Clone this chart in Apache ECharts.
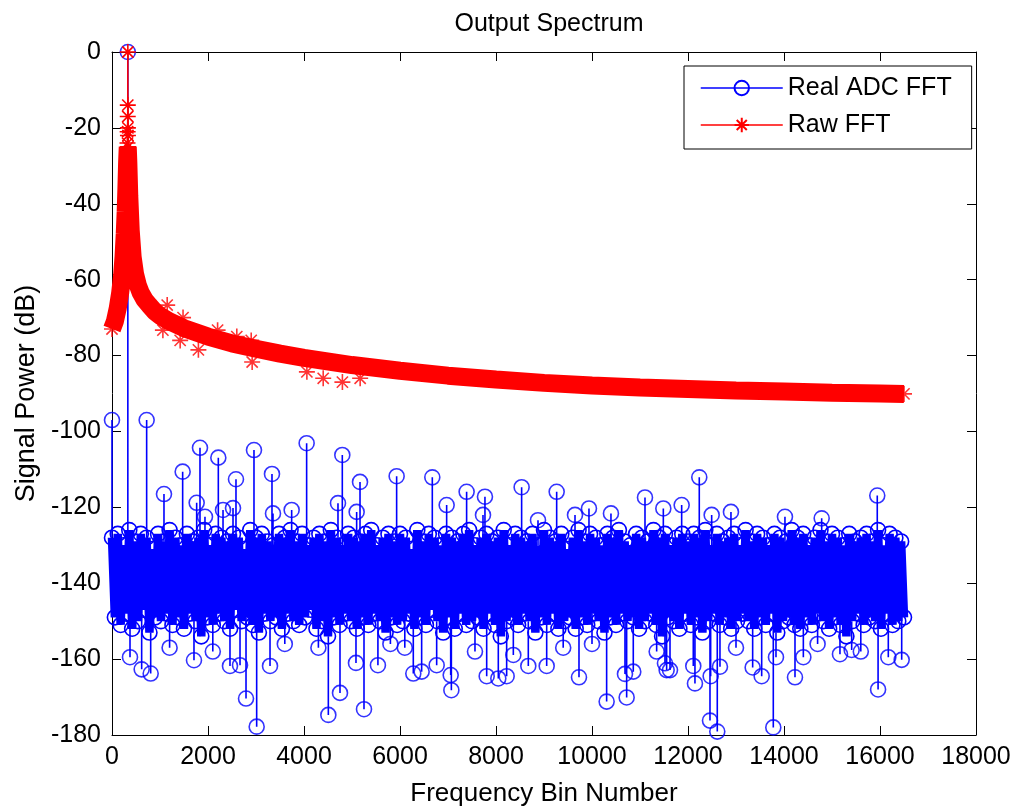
<!DOCTYPE html>
<html>
<head>
<meta charset="utf-8">
<script src="https://cdn.jsdelivr.net/npm/echarts@6/dist/echarts.min.js"></script>
<style>html,body{margin:0;padding:0;background:#fff}#chart{width:1019px;height:806px}</style>
</head>
<body>
<div id="chart"></div>
<script>
// ---- axes ----
const xMin = 0, xMax = 18000, xStep = 2000;
const yMin = -180, yMax = 0, yStep = 20;

// ---- Real ADC FFT: noise floor samples (every noiseBinStep bins) ----
const noiseStartBin = 0;
const noiseBinStep = 60;
const noiseVals = [
-128,-149,-127,-151,-130,-148,-126,-152,-129,-150,-127,-147,-128,-153,-131,-149,-127,-150,-129,-148,
-126,-151,-128,-149,-130,-152,-127,-148,-129,-150,-128,-154,-126,-149,-130,-151,-127,-148,-128,-150,
-129,-152,-127,-147,-128,-150,-131,-149,-126,-151,-128,-153,-127,-148,-129,-150,-130,-149,-127,-152,
-128,-148,-126,-150,-129,-151,-127,-149,-130,-147,-128,-152,-127,-150,-129,-154,-126,-149,-128,-151,
-130,-148,-127,-150,-128,-152,-129,-149,-127,-151,-126,-148,-130,-150,-128,-153,-127,-149,-129,-151,
-127,-150,-128,-148,-131,-152,-126,-149,-129,-151,-127,-147,-128,-150,-130,-153,-127,-149,-128,-152,
-129,-148,-127,-151,-126,-150,-130,-149,-128,-152,-127,-148,-129,-151,-128,-154,-126,-150,-130,-149,
-127,-151,-128,-148,-129,-150,-127,-153,-130,-149,-126,-151,-128,-148,-129,-152,-127,-150,-131,-149,
-128,-152,-126,-149,-129,-151,-127,-148,-128,-150,-130,-153,-127,-149,-128,-151,-126,-148,-129,-150,
-130,-149,-127,-152,-128,-150,-129,-148,-126,-151,-128,-154,-127,-149,-130,-150,-128,-152,-127,-148,
-129,-151,-127,-149,-128,-153,-126,-150,-130,-148,-127,-151,-129,-149,-128,-152,-127,-150,-130,-148,
-126,-150,-129,-152,-127,-149,-128,-151,-130,-148,-127,-153,-128,-150,-129,-149,-126,-151,-128,-152,
-127,-149,-130,-151,-128,-148,-126,-150,-129,-152,-127,-149,-128,-151,-130,-154,-127,-150,-129,-148,
-128,-151,-127,-149,-129,-150,-126,-152,-130,-148,-127,-151,-128,-150,-129,-149
];

// ---- Real ADC FFT: isolated bins standing out of the floor ----
const adcOutlierBins = [
0,330,722,1083,1472,1764,1833,1937,2215,2313,2521,2583,2958,3333,3354,3743,4055,4708,4798,5097,5167,
5930,6673,6972,7388,7729,7770,8534,8875,9264,9646,9937,10395,11104,11486,11868,12235,12493,12895,14020,14785,15943,
375,618,806,1200,1708,2100,2458,2667,2792,3014,3292,3600,4300,4507,4750,5083,5250,5540,5800,6100,6277,6451,6764,
7056,7070,7562,7806,8048,8222,8361,8673,9056,9400,9729,10000,10305,10687,10722,10860,11347,11520,11555,11625,
12110,12145,12458,12472,12610,12666,13000,13347,13535,13777,13833,14229,14403,14700,15166,15410,15600,15960,16173,16452
];
const adcOutlierVals = [
-97,0,-97,-116.5,-110.6,-118.8,-104.3,-122.5,-106.9,-120.7,-120.2,-112.6,-104.9,-111.2,-121.6,-120.7,-103.1,-118.9,-106.2,-121.2,-113.3,
-111.8,-112.1,-119.4,-115.9,-122,-117.2,-114.7,-123.4,-115.9,-122,-120.3,-121.6,-117.4,-120.3,-119.4,-112.1,-122,-121.2,-122.5,-122.9,-116.9,
-159.5,-162.7,-163.8,-157,-160.3,-158,-161.8,-161.6,-170.4,-177.8,-161.8,-156,-157,-174.7,-168.9,-161,-173.2,-161.6,-156,-157,-163.8,-163.3,-161.6,
-164.2,-168.2,-158,-164.5,-165.1,-164.5,-158.9,-161.8,-161.8,-157,-164.8,-156,-171.2,-163.9,-170.1,-163.3,-158,-161.1,-162.9,-162.9,
-161.8,-166.4,-176.2,-164.5,-179.1,-162,-157,-162.2,-164.5,-178,-159.5,-164.8,-159.5,-156,-158.7,-157.6,-158,-168,-159.5,-160.2
];

// ---- Raw FFT: leakage curve ----
const rawCurveBins = [0,60,120,170,210,240,265,285,300,315,328,340,360,390,430,480,540,600,680,780,900,1000,1200,1500,2000,2500,3000,3500,4000,5000,6000,7000,8000,9000,10000,11000,12000,13000,14000,15000,16000,16500];
const rawCurveVals = [-73,-71,-67.5,-63.5,-59,-54,-48,-42,-36,-29,-25,-29,-38,-47,-54,-58.5,-61.5,-63.5,-65.3,-66.8,-68.5,-69.5,-71,-72.8,-75,-76.8,-78.2,-79.5,-80.6,-82.5,-84,-85.3,-86.3,-87.2,-87.9,-88.4,-88.8,-89.2,-89.5,-89.8,-90,-90.1];

// ---- Raw FFT: bins next to the signal peak ----
const rawPeakBins = [300,304,308,312,316,320,323,326,328,329,330,331,332,334,337,341,346,352,360];
const rawPeakVals = [-44,-40,-36,-33,-30,-27,-24,-21,-17,-14,0,-20,-22,-25,-28,-31,-35,-39,-43];

// ---- Raw FFT: stray points off the curve ----
const rawMarkerBins = [0,1060,1150,1420,1480,1800,2200,2600,2900,2920,4060,4400,4800,5170,16500];
const rawMarkerVals = [-73,-73.3,-66.7,-76,-70,-78.5,-73.3,-75,-76,-81.7,-84.3,-86,-87,-86,-90.1];

// ---- build series data through the library's value axes ----
const noiseData = noiseVals.map((v, i) => [noiseStartBin + i * noiseBinStep, v]);
const spikeData = [];
adcOutlierBins.forEach((b, i) => {
  let k = Math.round((b - noiseStartBin) / noiseBinStep);
  k = Math.max(0, Math.min(noiseVals.length - 1, k));
  spikeData.push([b, noiseVals[k]], [b, adcOutlierVals[i]], [b, null]);
});
const adcOutlierData = adcOutlierBins.map((b, i) => [b, adcOutlierVals[i]]);
const rawCurveData = rawCurveBins.map((b, i) => [b, rawCurveVals[i]]);
const rawPeakData = rawPeakBins.map((b, i) => [b, rawPeakVals[i]]);
const rawMarkerData = rawMarkerBins.map((b, i) => [b, rawMarkerVals[i]]);

const FONT = 'Liberation Sans, Arial, sans-serif';
const BLUE = '#0000ff', RED = '#ff0000';
const STAR = 'path://M0,-10L0,10M-10,0L10,0M-7,-7L7,7M-7,7L7,-7';

const chart = echarts.init(document.getElementById('chart'), null, {renderer: 'canvas'});
const axisCommon = {
  axisLine: {show: true, onZero: false, lineStyle: {color: '#000', width: 1}},
  axisTick: {show: true, inside: true, length: 9, lineStyle: {color: '#000'}},
  splitLine: {show: false}
};
chart.setOption({
  animation: false,
  backgroundColor: '#fff',
  title: {
    text: 'Output Spectrum', left: 544, top: 7, textAlign: 'center',
    textStyle: {fontFamily: FONT, fontSize: 25, fontWeight: 'normal', color: '#000'}
  },
  grid: {left: 112, top: 52, width: 864, height: 683, containLabel: false, outerBoundsMode: 'none'},
  legend: {
    orient: 'vertical', left: 684, top: 66,
    padding: [9, 20, 11, 16], itemWidth: 82, itemHeight: 18, itemGap: 11,
    borderColor: '#000', borderWidth: 1, backgroundColor: '#fff',
    textStyle: {fontFamily: FONT, fontSize: 25, lineHeight: 26, color: '#000'},
    lineStyle: {width: 1.5},
    data: ['Real ADC FFT', 'Raw FFT']
  },
  xAxis: [
    Object.assign({
      type: 'value', position: 'bottom', min: xMin, max: xMax, interval: xStep,
      name: 'Frequency Bin Number', nameLocation: 'middle', nameGap: 46,
      nameTextStyle: {fontFamily: FONT, fontSize: 26, color: '#000'},
      axisLabel: {fontFamily: FONT, fontSize: 25, color: '#000', margin: 10, formatter: v => String(v)}
    }, axisCommon),
    Object.assign({
      type: 'value', position: 'top', min: xMin, max: xMax, interval: xStep,
      axisLabel: {show: false}
    }, axisCommon)
  ],
  yAxis: [
    Object.assign({
      type: 'value', position: 'left', min: yMin, max: yMax, interval: yStep,
      name: 'Signal Power (dB)', nameLocation: 'middle', nameGap: 61,
      nameTextStyle: {fontFamily: FONT, fontSize: 27, color: '#000'},
      axisLabel: {fontFamily: FONT, fontSize: 25, color: '#000', margin: 11, formatter: v => String(v)}
    }, axisCommon),
    Object.assign({
      type: 'value', position: 'right', min: yMin, max: yMax, interval: yStep,
      axisLabel: {show: false}
    }, axisCommon)
  ],
  series: [
    {
      name: 'Real ADC FFT', type: 'line', data: noiseData, clip: false, z: 2,
      symbol: 'circle', symbolSize: 15, showSymbol: true,
      itemStyle: {color: 'rgba(0,0,0,0)', borderColor: BLUE, borderWidth: 1.6},
      lineStyle: {color: BLUE, width: 8.5, join: 'bevel'},
      emphasis: {disabled: true}
    },
    {
      name: 'Real ADC FFT', type: 'line', data: spikeData, clip: false, z: 2,
      showSymbol: false, symbol: 'none', connectNulls: false,
      lineStyle: {color: BLUE, width: 1.6},
      emphasis: {disabled: true}
    },
    {
      name: 'Real ADC FFT', type: 'scatter', data: adcOutlierData, clip: false, z: 3,
      symbol: 'circle', symbolSize: 15,
      itemStyle: {color: 'rgba(0,0,0,0)', borderColor: BLUE, borderWidth: 1.6},
      emphasis: {disabled: true}
    },
    {
      name: 'Raw FFT', type: 'line', data: rawCurveData, clip: false, z: 4,
      symbol: STAR, symbolSize: 15, showSymbol: false,
      itemStyle: {color: RED, borderColor: RED, borderWidth: 1.6},
      lineStyle: {color: RED, width: 18, join: 'bevel', cap: 'butt'},
      emphasis: {disabled: true}
    },
    {
      name: 'Raw FFT', type: 'line', data: rawPeakData, clip: false, z: 5,
      symbol: STAR, symbolSize: 16, showSymbol: true,
      itemStyle: {color: RED, borderColor: RED, borderWidth: 1.6},
      lineStyle: {color: RED, width: 1.5},
      emphasis: {disabled: true}
    },
    {
      name: 'Raw FFT', type: 'scatter', data: rawMarkerData, clip: false, z: 5,
      symbol: STAR, symbolSize: 16,
      itemStyle: {color: RED, borderColor: RED, borderWidth: 1.6},
      emphasis: {disabled: true}
    }
  ]
});
</script>
</body>
</html>
